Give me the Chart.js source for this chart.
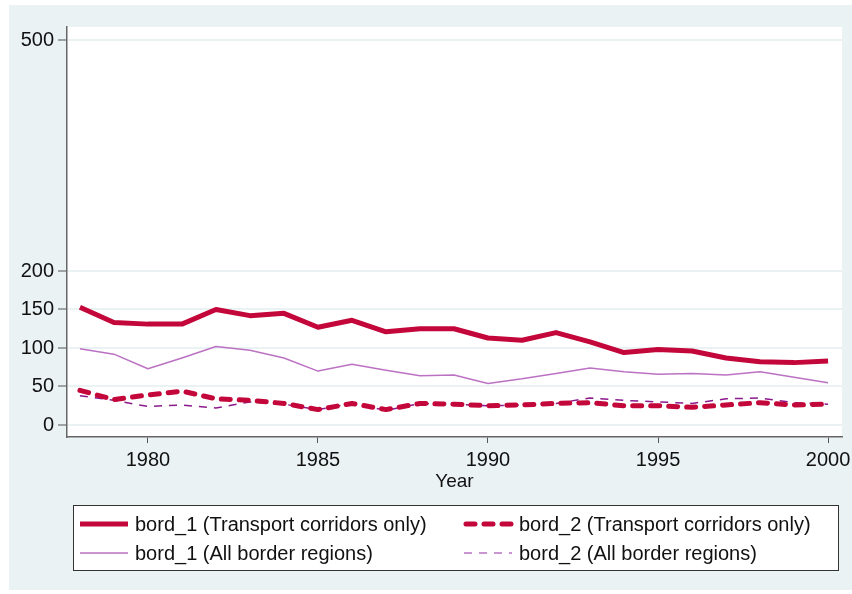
<!DOCTYPE html>
<html>
<head>
<meta charset="utf-8">
<script src="https://cdn.jsdelivr.net/npm/chart.js@4/dist/chart.umd.min.js"></script>
<style>
  html, body { margin: 0; padding: 0; background: #ffffff; }
  #wrap { width: 852px; height: 594px; position: relative; }
</style>
</head>
<body>
<div id="wrap"><canvas id="chart" width="852" height="594"></canvas></div>
<script>
// data
const years = [1978, 1979, 1980, 1981, 1982, 1983, 1984, 1985, 1986, 1987, 1988,
  1989, 1990, 1991, 1992, 1993, 1994, 1995, 1996, 1997, 1998, 1999, 2000];
const bord1Transport = [153, 133, 131, 131, 150, 142, 145, 127, 136, 121, 125,
  125, 113, 110, 120, 108, 94, 98, 96, 87, 82, 81, 83];
const bord1All = [99, 92, 73, 87, 102, 97, 87, 70, 79, 71, 64,
  65, 54, 60, 67, 74, 69, 66, 67, 65, 69, 62, 55];
const bord2Transport = [45, 33, 39, 44, 34, 32, 28, 20, 28, 20, 28,
  27, 25, 26, 28, 29, 25, 25, 23, 26, 29, 26, 27];
const bord2All = [38, 32, 24, 26, 22, 30, 27, 20, 28, 19, 28,
  27, 25, 26, 28, 35, 32, 30, 28, 34, 35, 29, 27];
const yTicks = [0, 50, 100, 150, 200, 500];
const xTicks = [1980, 1985, 1990, 1995, 2000];

const labels = [
  'bord_1 (Transport corridors only)',
  'bord_2 (Transport corridors only)',
  'bord_1 (All border regions)',
  'bord_2 (All border regions)'
];

const crimson = '#c3073a';
const lilac = '#bb72c3';
const purple = '#8c1a8c';
const font = '"Liberation Sans", Arial, sans-serif';

function pts(vals) {
  return vals.map((v, i) => ({ x: years[i], y: v }));
}

// outer panel, white plot region and legend box
const backdrop = {
  id: 'backdrop',
  beforeDraw(chart) {
    const c = chart.ctx;
    const a = chart.chartArea;
    c.save();
    c.fillStyle = '#eaf2f3';
    c.fillRect(9, 5, 843, 585);
    c.fillStyle = '#ffffff';
    c.fillRect(a.left, a.top, a.right - a.left, a.bottom - a.top);
    c.restore();
  },
  afterDraw(chart) {
    const c = chart.ctx;
    c.save();
    c.fillStyle = '#ffffff';
    c.fillRect(73, 505, 765, 65);
    c.strokeStyle = '#333333';
    c.lineWidth = 1;
    c.strokeRect(73.5, 505.5, 765, 65);

    const entries = [
      { x: 80, y: 524, w: 5, dash: [], col: crimson, cap: 'butt', text: labels[0] },
      { x: 464, y: 524, w: 5, dash: [9, 9], col: crimson, cap: 'round', text: labels[1] },
      { x: 80, y: 553, w: 1.5, dash: [], col: lilac, cap: 'butt', text: labels[2] },
      { x: 464, y: 553, w: 1.5, dash: [8, 7], col: lilac, cap: 'butt', text: labels[3] }
    ];
    c.font = '20px ' + font;
    c.textBaseline = 'middle';
    entries.forEach(e => {
      c.beginPath();
      c.strokeStyle = e.col;
      c.lineWidth = e.w;
      c.lineCap = e.cap;
      c.setLineDash(e.dash);
      c.moveTo(e.x + (e.cap === 'round' ? 2 : 0), e.y);
      c.lineTo(e.x + 48, e.y);
      c.stroke();
      c.setLineDash([]);
      c.fillStyle = '#111111';
      c.fillText(e.text, e.x + 55, e.y + 1);
    });
    c.restore();
  }
};

new Chart(document.getElementById('chart'), {
  type: 'line',
  data: {
    datasets: [
      { label: labels[3], data: pts(bord2All), borderColor: purple, borderWidth: 1.5,
        borderDash: [8, 7], order: 4 },
      { label: labels[2], data: pts(bord1All), borderColor: lilac, borderWidth: 1.5, order: 3 },
      { label: labels[1], data: pts(bord2Transport), borderColor: crimson, borderWidth: 5,
        borderDash: [9, 9], borderCapStyle: 'round', order: 2 },
      { label: labels[0], data: pts(bord1Transport), borderColor: crimson, borderWidth: 5, order: 1 }
    ]
  },
  options: {
    responsive: false,
    animation: false,
    events: [],
    layout: { padding: { left: 0, top: 27, right: 10, bottom: 101 } },
    elements: {
      point: { radius: 0 },
      line: { tension: 0, borderJoinStyle: 'round', fill: false }
    },
    plugins: { legend: { display: false }, tooltip: { enabled: false } },
    scales: {
      x: {
        type: 'linear',
        min: 1977.62,
        max: 2000.41,
        afterBuildTicks: s => { s.ticks = xTicks.map(v => ({ value: v })); },
        afterFit: s => { s.height = 56; s.paddingLeft = 0; s.paddingRight = 0; },
        grid: { drawOnChartArea: false, drawTicks: true, tickLength: 6, tickColor: '#555555', tickWidth: 1 },
        border: { color: '#666666', width: 1.5 },
        ticks: { color: '#111111', font: { family: font, size: 20 }, padding: 5, maxRotation: 0,
          callback: v => String(v) },
        title: { display: true, text: 'Year', color: '#111111', font: { family: font, size: 19 }, padding: 0 }
      },
      y: {
        type: 'linear',
        min: -15.6,
        max: 516.9,
        afterBuildTicks: s => { s.ticks = yTicks.map(v => ({ value: v })); },
        afterFit: s => { s.width = 67; s.paddingTop = 0; s.paddingBottom = 0; },
        grid: { color: '#eaf2f3', lineWidth: 2, tickLength: 9, tickColor: '#555555', tickWidth: 1 },
        border: { color: '#666666', width: 1.5 },
        ticks: { color: '#111111', font: { family: font, size: 20 }, padding: 4 }
      }
    }
  },
  plugins: [backdrop]
});
</script>
</body>
</html>
